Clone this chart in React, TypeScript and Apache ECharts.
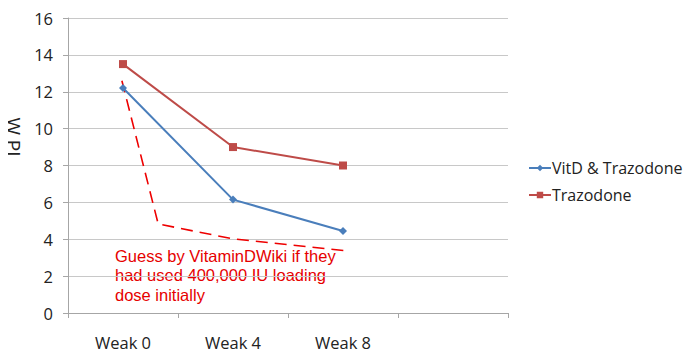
import React, { useEffect, useRef } from "react";
import * as echarts from "echarts";

const categories = ["Weak 0", "Weak 4", "Weak 8", ""];
const vitdTrazodone = [12.2, 6.15, 4.45];
const trazodone = [13.5, 9.0, 8.0];
// guess line as [position along x in category units, value]
const guessX = [0.49, 0.82, 1.5, 2.52];
const guessY = [12.6, 4.83, 4.02, 3.38];
const yTicks = { min: 0, max: 16, interval: 2 };
const noteLines = ["Guess by VitaminDWiki if they", "had used 400,000 IU loading", "dose initially"];
const yTitle = "W PI";

export default function App() {
  const ref = useRef<HTMLDivElement>(null);
  useEffect(() => {
    if (!ref.current) return;
    const chart = echarts.init(ref.current, undefined, { renderer: "svg" });
    const font = "Liberation Sans, Arial, sans-serif";
    const uiFont = "Open Sans, sans-serif";
    chart.setOption({
      animation: false,
      textStyle: { fontFamily: font },
      grid: { left: 68, right: 185, top: 18, bottom: 49, containLabel: false },
      legend: {
        orient: "vertical",
        left: 523,
        top: 155,
        itemGap: 11,
        itemWidth: 22,
        itemHeight: 8,
        data: ["VitD & Trazodone", "Trazodone"],
        textStyle: { fontSize: 16, color: "#222", fontFamily: uiFont, padding: [0, 0, 0, -4] },
      },
      xAxis: [
        {
          type: "category",
          data: categories,
          boundaryGap: true,
          axisLine: { lineStyle: { color: "#a6a6a6" } },
          axisTick: { show: true, length: 5, lineStyle: { color: "#a6a6a6" } },
          axisLabel: { fontSize: 16.5, color: "#222", margin: 21, fontFamily: uiFont },
          splitLine: { show: false },
        },
        {
          type: "value",
          min: 0,
          max: 4,
          show: false,
        },
      ],
      yAxis: {
        type: "value",
        min: yTicks.min,
        max: yTicks.max,
        interval: yTicks.interval,
        axisLine: { show: true, lineStyle: { color: "#a6a6a6" } },
        axisTick: { show: true, length: 5, lineStyle: { color: "#a6a6a6" } },
        axisLabel: { fontSize: 16.5, color: "#222", margin: 15, fontFamily: uiFont },
        splitLine: { lineStyle: { color: "#c8c8c8", width: 1 } },
      },
      series: [
        {
          name: "VitD & Trazodone",
          type: "line",
          data: vitdTrazodone,
          symbol: "diamond",
          symbolSize: 8,
          itemStyle: { color: "#4a7ebb" },
          lineStyle: { color: "#4a7ebb", width: 2 },
        },
        {
          name: "Trazodone",
          type: "line",
          data: trazodone,
          symbol: "rect",
          symbolSize: 8,
          itemStyle: { color: "#be4b48" },
          lineStyle: { color: "#be4b48", width: 2 },
        },
        {
          name: "Guess",
          type: "line",
          xAxisIndex: 1,
          data: guessX.map((x, i) => [x, guessY[i]]),
          symbol: "none",
          lineStyle: { color: "#ee0000", width: 1.6, type: [12, 7] },
          z: 1,
        },
      ],
      graphic: [
        {
          type: "text",
          x: 14,
          y: 137,
          rotation: -Math.PI / 2,
          style: {
            text: yTitle,
            fontSize: 19,
            fill: "#222",
            fontFamily: uiFont,
            align: "center",
            verticalAlign: "middle",
          },
        },
        ...noteLines.map((t, i) => ({
          type: "text",
          left: 115,
          top: 247 + i * 19.5,
          style: { text: t, fontSize: 16.5, fill: "#e60000", fontFamily: font },
        })),
      ],
    });
    return () => chart.dispose();
  }, []);
  return <div ref={ref} style={{ width: 693, height: 362, margin: -8 }} />;
}
